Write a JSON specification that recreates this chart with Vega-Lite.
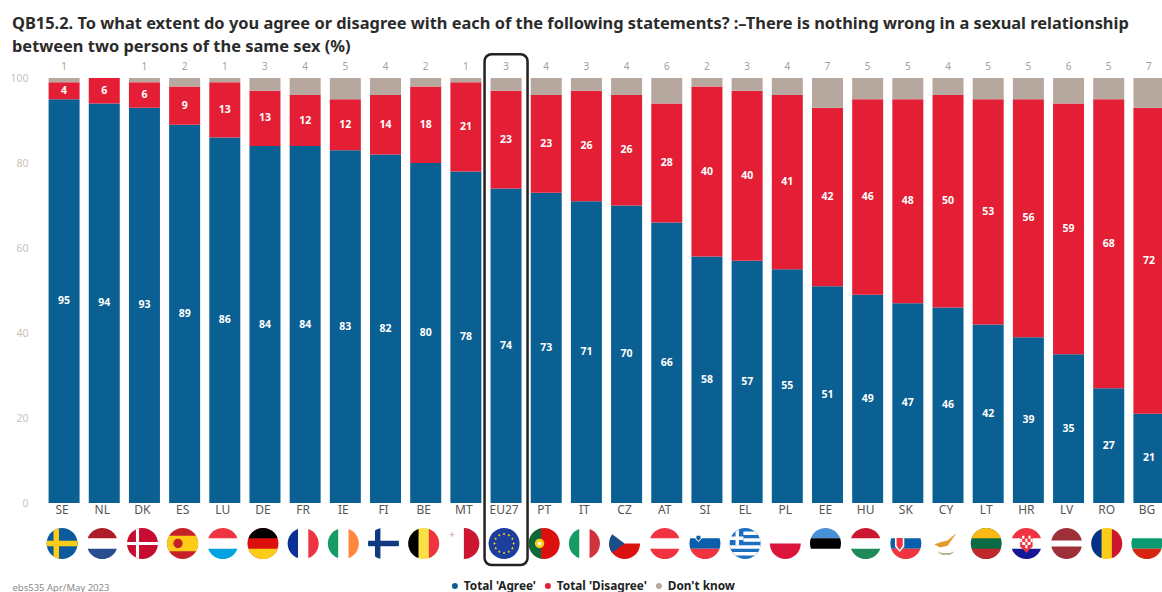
{
"$schema":"https://vega.github.io/schema/vega-lite/v6.json",
"width":1118,"height":425,
"autosize":{"type":"none"},
"padding":{"left":44,"top":78,"right":0,"bottom":89},
"background":"white",
"title":{"text":["QB15.2. To what extent do you agree or disagree with each of the following statements? :–There is nothing wrong in a sexual relationship","between two persons of the same sex (%)"],"anchor":"start","frame":"group","dx":-32,"offset":-2,"font":"Noto Sans","fontSize":16.4,"fontWeight":"bold","color":"#2b2b2b","lineHeight":23},
"config":{"view":{"stroke":null},"font":"Noto Sans"},
"encoding":{"x":{"field":"country","type":"nominal","scale":{"domain":["SE","NL","DK","ES","LU","DE","FR","IE","FI","BE","MT","EU27","PT","IT","CZ","AT","SI","EL","PL","EE","HU","SK","CY","LT","HR","LV","RO","BG"],"range":[0,1125],"paddingInner":0.228,"paddingOuter":0.114},
"axis":{"title":"ebs535 Apr/May 2023","titleFont":"Noto Sans","titleFontSize":9.5,"titleFontWeight":"normal","titleColor":"#8a8a8a","titleAnchor":"start","titleAlign":"left","titleX":-32,"titleY":79,"labelAngle":0,"labelFont":"Noto Sans","labelFontSize":12,"labelColor":"#555555","labelPadding":1,"labelOffset":-2,"ticks":false,"domain":false,"grid":false}}},
"data":{"values":[
{"country":"SE","response":"agree","value":95},{"country":"SE","response":"disagree","value":4},{"country":"SE","response":"dk","value":1},
{"country":"NL","response":"agree","value":94},{"country":"NL","response":"disagree","value":6},{"country":"NL","response":"dk","value":0},
{"country":"DK","response":"agree","value":93},{"country":"DK","response":"disagree","value":6},{"country":"DK","response":"dk","value":1},
{"country":"ES","response":"agree","value":89},{"country":"ES","response":"disagree","value":9},{"country":"ES","response":"dk","value":2},
{"country":"LU","response":"agree","value":86},{"country":"LU","response":"disagree","value":13},{"country":"LU","response":"dk","value":1},
{"country":"DE","response":"agree","value":84},{"country":"DE","response":"disagree","value":13},{"country":"DE","response":"dk","value":3},
{"country":"FR","response":"agree","value":84},{"country":"FR","response":"disagree","value":12},{"country":"FR","response":"dk","value":4},
{"country":"IE","response":"agree","value":83},{"country":"IE","response":"disagree","value":12},{"country":"IE","response":"dk","value":5},
{"country":"FI","response":"agree","value":82},{"country":"FI","response":"disagree","value":14},{"country":"FI","response":"dk","value":4},
{"country":"BE","response":"agree","value":80},{"country":"BE","response":"disagree","value":18},{"country":"BE","response":"dk","value":2},
{"country":"MT","response":"agree","value":78},{"country":"MT","response":"disagree","value":21},{"country":"MT","response":"dk","value":1},
{"country":"EU27","response":"agree","value":74},{"country":"EU27","response":"disagree","value":23},{"country":"EU27","response":"dk","value":3},
{"country":"PT","response":"agree","value":73},{"country":"PT","response":"disagree","value":23},{"country":"PT","response":"dk","value":4},
{"country":"IT","response":"agree","value":71},{"country":"IT","response":"disagree","value":26},{"country":"IT","response":"dk","value":3},
{"country":"CZ","response":"agree","value":70},{"country":"CZ","response":"disagree","value":26},{"country":"CZ","response":"dk","value":4},
{"country":"AT","response":"agree","value":66},{"country":"AT","response":"disagree","value":28},{"country":"AT","response":"dk","value":6},
{"country":"SI","response":"agree","value":58},{"country":"SI","response":"disagree","value":40},{"country":"SI","response":"dk","value":2},
{"country":"EL","response":"agree","value":57},{"country":"EL","response":"disagree","value":40},{"country":"EL","response":"dk","value":3},
{"country":"PL","response":"agree","value":55},{"country":"PL","response":"disagree","value":41},{"country":"PL","response":"dk","value":4},
{"country":"EE","response":"agree","value":51},{"country":"EE","response":"disagree","value":42},{"country":"EE","response":"dk","value":7},
{"country":"HU","response":"agree","value":49},{"country":"HU","response":"disagree","value":46},{"country":"HU","response":"dk","value":5},
{"country":"SK","response":"agree","value":47},{"country":"SK","response":"disagree","value":48},{"country":"SK","response":"dk","value":5},
{"country":"CY","response":"agree","value":46},{"country":"CY","response":"disagree","value":50},{"country":"CY","response":"dk","value":4},
{"country":"LT","response":"agree","value":42},{"country":"LT","response":"disagree","value":53},{"country":"LT","response":"dk","value":5},
{"country":"HR","response":"agree","value":39},{"country":"HR","response":"disagree","value":56},{"country":"HR","response":"dk","value":5},
{"country":"LV","response":"agree","value":35},{"country":"LV","response":"disagree","value":59},{"country":"LV","response":"dk","value":6},
{"country":"RO","response":"agree","value":27},{"country":"RO","response":"disagree","value":68},{"country":"RO","response":"dk","value":5},
{"country":"BG","response":"agree","value":21},{"country":"BG","response":"disagree","value":72},{"country":"BG","response":"dk","value":7}
]},
"transform":[
{"stack":"value","groupby":["country"],"sort":[{"field":"response","order":"ascending"}],"as":["low","high"]},
{"calculate":"(datum.low+datum.high)/2","as":"middle"}
],
"resolve":{"scale":{"color":"independent"}},
"layer":[
{"mark":{"type":"bar","size":31,"clip":true},
 "encoding":{
  "y":{"field":"low","type":"quantitative","scale":{"domain":[0,100],"nice":false},"axis":{"title":null,"values":[0,20,40,60,80,100],"labelFont":"Noto Sans","labelFontSize":10.5,"labelColor":"#c9c2ba","labelPadding":16,"ticks":false,"domain":false,"grid":false}},
  "y2":{"field":"high"},
  "color":{"field":"response","type":"nominal","scale":{"domain":["agree","disagree","dk"],"range":["#0b6093","#e41f35","#b6a89f"]},
   "legend":{"orient":"none","legendX":405,"legendY":502,"direction":"horizontal","columns":3,"title":null,"symbolType":"circle","symbolSize":36,"symbolStrokeWidth":0,"labelFont":"Noto Sans","labelFontSize":11.8,"labelFontWeight":"bold","labelColor":"#222222","labelOffset":3,"columnPadding":6,"labelExpr":"{'agree':\"Total 'Agree'\",'disagree':\"Total 'Disagree'\",'dk':\"Don't know\"}[datum.label]"}}
 }},
{"transform":[{"filter":"datum.response!=='dk'"}],
 "mark":{"type":"text","color":"white","fontWeight":"bold","fontSize":10.5,"font":"Noto Sans"},
 "encoding":{"y":{"field":"middle","type":"quantitative"},"text":{"field":"value","type":"quantitative"}}},
{"transform":[{"filter":"datum.response==='dk' && datum.value>0"}],
 "mark":{"type":"text","color":"#a89f96","fontSize":10,"font":"Noto Sans","dy":-11},
 "encoding":{"y":{"datum":100},"text":{"field":"value","type":"quantitative"}}},
{"data":{"values":[{"country":"EU27"}]},
 "transform":[],
 "mark":{"type":"bar","size":43,"cornerRadius":7,"filled":false,"stroke":"#222222","strokeWidth":2.5},
 "encoding":{"y":{"datum":105.6},"y2":{"datum":-14.6}}},
{"data":{"values":[
{"country":"SE","part":"disc","tone":"sweden blue"},{"country":"SE","part":"cross bar","tone":"gold"},{"country":"SE","part":"cross post","tone":"gold"},
{"country":"NL","part":"top","tone":"dutch red"},{"country":"NL","part":"bottom","tone":"dutch blue"},
{"country":"DK","part":"disc","tone":"crimson"},{"country":"DK","part":"thin bar","tone":"white"},{"country":"DK","part":"thin post","tone":"white"},
{"country":"ES","part":"disc","tone":"spanish red"},{"country":"ES","part":"wide band","tone":"gold"},{"country":"ES","part":"crest","tone":"spanish red"},
{"country":"LU","part":"top","tone":"bright red"},{"country":"LU","part":"bottom","tone":"sky"},
{"country":"DE","part":"disc","tone":"german red"},{"country":"DE","part":"top","tone":"black"},{"country":"DE","part":"bottom","tone":"gold"},
{"country":"FR","part":"left","tone":"french blue"},{"country":"FR","part":"right","tone":"bright red"},
{"country":"IE","part":"left","tone":"irish green"},{"country":"IE","part":"right","tone":"orange"},
{"country":"FI","part":"cross bar","tone":"finnish blue"},{"country":"FI","part":"cross post","tone":"finnish blue"},
{"country":"BE","part":"disc","tone":"lemon"},{"country":"BE","part":"left","tone":"black"},{"country":"BE","part":"right","tone":"bright red"},
{"country":"MT","part":"right half","tone":"maltese red"},{"country":"MT","part":"george cross","tone":"pale grey"},
{"country":"EU27","part":"disc","tone":"eu blue"},{"country":"EU27","part":"stars","tone":"gold"},
{"country":"PT","part":"disc","tone":"german red"},{"country":"PT","part":"left wide","tone":"dark green"},{"country":"PT","part":"crest","tone":"gold"},{"country":"PT","part":"crest core","tone":"white"},
{"country":"IT","part":"left","tone":"irish green"},{"country":"IT","part":"right","tone":"italian red"},
{"country":"CZ","part":"lower half","tone":"german red"},{"country":"CZ","part":"hoist","tone":"czech blue"},
{"country":"AT","part":"top","tone":"bright red"},{"country":"AT","part":"bottom","tone":"bright red"},
{"country":"SI","part":"middle","tone":"slovene blue"},{"country":"SI","part":"bottom","tone":"bright red"},{"country":"SI","part":"high shield","tone":"white"},{"country":"SI","part":"high shield core","tone":"slovene blue"},
{"country":"EL","part":"disc","tone":"greek blue"},{"country":"EL","part":"greek stripes","tone":"white"},{"country":"EL","part":"greek cross","tone":"white"},
{"country":"PL","part":"lower half","tone":"polish red"},
{"country":"EE","part":"top","tone":"estonian blue"},{"country":"EE","part":"middle","tone":"black"},
{"country":"HU","part":"top","tone":"maltese red"},{"country":"HU","part":"bottom","tone":"hungarian green"},
{"country":"SK","part":"middle","tone":"slovene blue"},{"country":"SK","part":"bottom","tone":"bright red"},{"country":"SK","part":"side shield","tone":"white"},{"country":"SK","part":"side shield core","tone":"bright red"},
{"country":"CY","part":"island","tone":"copper"},{"country":"CY","part":"branches","tone":"olive"},
{"country":"LT","part":"disc","tone":"lithuanian green"},{"country":"LT","part":"top","tone":"amber"},{"country":"LT","part":"bottom","tone":"baltic red"},
{"country":"HR","part":"top","tone":"bright red"},{"country":"HR","part":"bottom","tone":"croatian blue"},{"country":"HR","part":"centre shield","tone":"bright red"},{"country":"HR","part":"checks","tone":"white"},
{"country":"LV","part":"upper wide","tone":"latvian red"},{"country":"LV","part":"lower wide","tone":"latvian red"},
{"country":"RO","part":"disc","tone":"gold"},{"country":"RO","part":"left","tone":"romanian blue"},{"country":"RO","part":"right","tone":"maltese red"},
{"country":"BG","part":"middle","tone":"bulgarian green"},{"country":"BG","part":"bottom","tone":"bulgarian red"}
]},
 "transform":[],
 "mark":{"type":"point","filled":true,"opacity":1,"size":961,"strokeWidth":0,"xOffset":-2},
 "encoding":{
  "y":{"datum":-9.53},
  "shape":{"field":"part","type":"nominal","legend":null,"scale":{
   "domain":["disc","top","middle","bottom","left","right","lower half","right half","upper wide","lower wide","wide band","left wide","cross bar","cross post","thin bar","thin post","hoist","crest","crest core","stars","george cross","greek stripes","greek cross","high shield","high shield core","side shield","side shield core","centre shield","checks","island","branches"],
   "range":[
    "M-1,0A1,1 0 1,1 1,0A1,1 0 1,1 -1,0Z",
    "M-0.943,-0.333A1,1 0 0,1 0.943,-0.333Z",
    "M-0.943,-0.333L0.943,-0.333A1,1 0 0,1 0.943,0.333L-0.943,0.333A1,1 0 0,1 -0.943,-0.333Z",
    "M0.943,0.333A1,1 0 0,1 -0.943,0.333Z",
    "M-0.333,-0.943A1,1 0 0,0 -0.333,0.943Z",
    "M0.333,-0.943A1,1 0 0,1 0.333,0.943Z",
    "M1,0A1,1 0 0,1 -1,0Z",
    "M0,-1A1,1 0 0,1 0,1Z",
    "M-0.98,-0.2A1,1 0 0,1 0.98,-0.2Z",
    "M0.98,0.2A1,1 0 0,1 -0.98,0.2Z",
    "M-0.866,-0.5L0.866,-0.5A1,1 0 0,1 0.866,0.5L-0.866,0.5A1,1 0 0,1 -0.866,-0.5Z",
    "M-0.2,-0.98A1,1 0 0,0 -0.2,0.98Z",
    "M-0.985,-0.17L0.985,-0.17A1,1 0 0,1 0.985,0.17L-0.985,0.17A1,1 0 0,1 -0.985,-0.17Z",
    "M-0.55,-0.835A1,1 0 0,1 -0.2,-0.98L-0.2,0.98A1,1 0 0,1 -0.55,0.835Z",
    "M-0.995,-0.1L0.995,-0.1A1,1 0 0,1 0.995,0.1L-0.995,0.1A1,1 0 0,1 -0.995,-0.1Z",
    "M-0.42,-0.907A1,1 0 0,1 -0.22,-0.975L-0.22,0.975A1,1 0 0,1 -0.42,0.907Z",
    "M-0.8,-0.6L0,0L-0.8,0.6A1,1 0 0,1 -0.8,-0.6Z",
    "M-0.6,0A0.3,0.3 0 1,1 0,0A0.3,0.3 0 1,1 -0.6,0Z",
    "M-0.42,0A0.12,0.12 0 1,1 -0.18,0A0.12,0.12 0 1,1 -0.42,0Z",
    "M0,-0.7L0.08,-0.62L0,-0.54L-0.08,-0.62ZM0.31,-0.617L0.39,-0.537L0.31,-0.457L0.23,-0.537ZM0.537,-0.39L0.617,-0.31L0.537,-0.23L0.457,-0.31ZM0.62,-0.08L0.7,0L0.62,0.08L0.54,0ZM0.537,0.23L0.617,0.31L0.537,0.39L0.457,0.31ZM0.31,0.457L0.39,0.537L0.31,0.617L0.23,0.537ZM0,0.54L0.08,0.62L0,0.7L-0.08,0.62ZM-0.31,0.457L-0.23,0.537L-0.31,0.617L-0.39,0.537ZM-0.537,0.23L-0.457,0.31L-0.537,0.39L-0.617,0.31ZM-0.62,-0.08L-0.54,0L-0.62,0.08L-0.7,0ZM-0.537,-0.39L-0.457,-0.31L-0.537,-0.23L-0.617,-0.31ZM-0.31,-0.617L-0.23,-0.537L-0.31,-0.457L-0.39,-0.537Z",
    "M-0.9,-0.62L-0.8,-0.62L-0.8,-0.72L-0.72,-0.72L-0.72,-0.62L-0.62,-0.62L-0.62,-0.54L-0.72,-0.54L-0.72,-0.44L-0.8,-0.44L-0.8,-0.54L-0.9,-0.54Z",
    "M-0.11,-0.778L0.628,-0.778L0.831,-0.556L-0.11,-0.556ZM-0.11,-0.333L0.943,-0.333L0.994,-0.111L-0.11,-0.111ZM-0.994,0.111L0.994,0.111L0.943,0.333L-0.943,0.333ZM-0.831,0.556L0.831,0.556L0.628,0.778L-0.628,0.778Z",
    "M-0.62,-0.78L-0.4,-0.91L-0.4,0.111L-0.62,0.111ZM-0.97,-0.45L-0.11,-0.45L-0.11,-0.22L-0.97,-0.22Z",
    "M-0.62,-0.62L-0.22,-0.62L-0.22,-0.3L-0.42,-0.1L-0.62,-0.3Z",
    "M-0.55,-0.5L-0.29,-0.5L-0.29,-0.3L-0.42,-0.18L-0.55,-0.3Z",
    "M-0.7,-0.45L-0.1,-0.45L-0.1,0.2L-0.4,0.55L-0.7,0.2Z",
    "M-0.6,-0.35L-0.2,-0.35L-0.2,0.15L-0.4,0.42L-0.6,0.15Z",
    "M-0.4,-0.5L0.4,-0.5L0.4,0.2L0,0.6L-0.4,0.2Z",
    "M-0.27,-0.5L-0.13,-0.5L-0.13,-0.3L-0.27,-0.3ZM0.13,-0.5L0.27,-0.5L0.27,-0.3L0.13,-0.3ZM-0.07,-0.3L0.07,-0.3L0.07,-0.1L-0.07,-0.1ZM-0.4,-0.3L-0.27,-0.3L-0.27,-0.1L-0.4,-0.1ZM0.27,-0.3L0.4,-0.3L0.4,-0.1L0.27,-0.1ZM-0.27,-0.1L-0.07,-0.1L-0.07,0.1L-0.27,0.1ZM0.07,-0.1L0.27,-0.1L0.27,0.1L0.07,0.1ZM-0.07,0.1L0.07,0.1L0.07,0.3L-0.07,0.3Z",
    "M-0.75,0.05L-0.3,-0.1L0.1,-0.2L0.7,-0.7L0.3,-0.15L0.1,0.15L-0.4,0.25Z",
    "M-0.55,0.5Q-0.2,0.85 0,0.7Q0.2,0.85 0.55,0.5Q0.2,0.7 0,0.6Q-0.2,0.7 -0.55,0.5Z"
   ]}},
  "color":{"field":"tone","type":"nominal","legend":null,"scale":{
   "domain":["sweden blue","gold","dutch red","dutch blue","crimson","white","spanish red","bright red","sky","german red","black","french blue","irish green","orange","finnish blue","lemon","maltese red","pale grey","eu blue","dark green","italian red","czech blue","slovene blue","greek blue","polish red","estonian blue","hungarian green","copper","olive","lithuanian green","amber","baltic red","croatian blue","latvian red","romanian blue","bulgarian green","bulgarian red"],
   "range":["#0b5b9e","#fccc16","#ae1c28","#2a4d8f","#c60c30","#ffffff","#c8202a","#ef3340","#00a3e0","#dd1010","#000000","#0a2f95","#169b62","#ff883e","#103a80","#fae042","#cd1730","#d9b8bc","#1c3f9e","#0b6a38","#d2323c","#1b4f8a","#0b5eab","#1d6fc0","#dc143c","#4891d9","#1f8a58","#e39a2a","#9aa774","#0a6a44","#fdb913","#c1272d","#171796","#9e3039","#04318a","#0a9a72","#d62612"]}}
 }}
]
}
